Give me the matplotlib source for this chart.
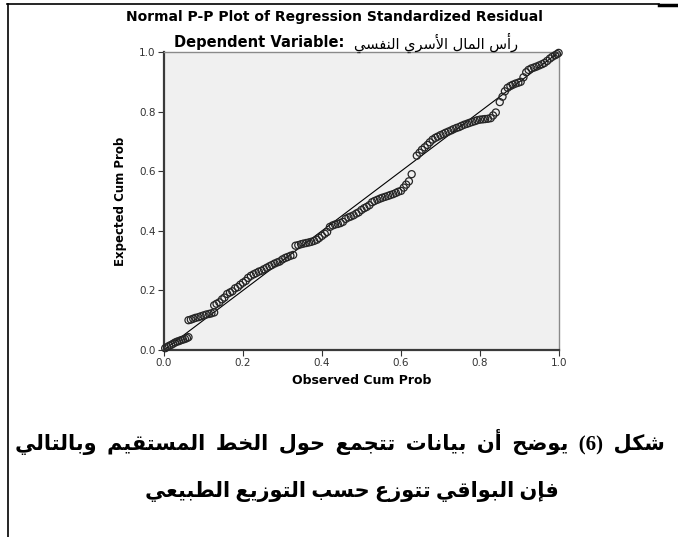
import matplotlib
matplotlib.use("Agg")
import matplotlib.pyplot as plt
from matplotlib.lines import Line2D

plt.rcParams.update({
    "font.family": ["DejaVu Sans"],
    "axes.unicode_minus": False,
})

# ---------- data ----------
observed_cum_prob = [
    0.003, 0.008, 0.013, 0.018, 0.023, 0.028, 0.033, 0.038, 0.043, 0.048, 0.053, 0.058, 0.062,
    0.062, 0.068, 0.074, 0.080, 0.087, 0.093, 0.100, 0.107, 0.114, 0.120, 0.127,
    0.127, 0.133, 0.140, 0.147, 0.153, 0.160, 0.167, 0.173, 0.180, 0.187, 0.193, 0.200,
    0.207, 0.213, 0.220, 0.227, 0.233, 0.240, 0.247, 0.253, 0.260, 0.267, 0.273, 0.280,
    0.287, 0.293, 0.300, 0.307, 0.313, 0.320, 0.327,
    0.333, 0.340, 0.347, 0.353, 0.360, 0.367, 0.373, 0.380, 0.387, 0.393, 0.400, 0.407, 0.413,
    0.420, 0.427, 0.433, 0.440, 0.447, 0.453, 0.460, 0.467, 0.473, 0.480, 0.487, 0.493,
    0.500, 0.507, 0.513, 0.520, 0.527, 0.533, 0.540, 0.547, 0.553, 0.560, 0.567, 0.573,
    0.580, 0.587, 0.593, 0.600, 0.607, 0.613, 0.620, 0.627,
    0.640, 0.647, 0.653, 0.660, 0.667, 0.673, 0.680, 0.687, 0.693, 0.700, 0.707, 0.713,
    0.720, 0.727, 0.733, 0.740, 0.747, 0.753, 0.760, 0.767, 0.773, 0.780, 0.787, 0.793,
    0.800, 0.807, 0.813, 0.820, 0.827, 0.833, 0.840,
    0.850, 0.857, 0.863, 0.870, 0.877, 0.883, 0.890, 0.897, 0.903, 0.910, 0.917, 0.923,
    0.930, 0.937, 0.943, 0.950, 0.957, 0.963, 0.970, 0.977, 0.983, 0.990, 0.995, 0.999,
]
expected_cum_prob = [
    0.006, 0.010, 0.014, 0.017, 0.021, 0.025, 0.028, 0.030, 0.033, 0.035, 0.037, 0.040, 0.043,
    0.100, 0.102, 0.105, 0.108, 0.110, 0.113, 0.116, 0.119, 0.121, 0.123, 0.126,
    0.150, 0.155, 0.160, 0.170, 0.176, 0.188, 0.193, 0.197, 0.207, 0.211, 0.219, 0.226,
    0.232, 0.242, 0.249, 0.254, 0.258, 0.263, 0.266, 0.271, 0.276, 0.281, 0.285, 0.290,
    0.294, 0.297, 0.304, 0.309, 0.312, 0.316, 0.319,
    0.350, 0.352, 0.355, 0.357, 0.359, 0.361, 0.363, 0.366, 0.370, 0.376, 0.383, 0.390, 0.396,
    0.413, 0.418, 0.421, 0.423, 0.426, 0.430, 0.440, 0.445, 0.448, 0.452, 0.458, 0.462,
    0.470, 0.476, 0.480, 0.486, 0.496, 0.500, 0.504, 0.508, 0.511, 0.514, 0.517, 0.520,
    0.523, 0.527, 0.531, 0.534, 0.545, 0.555, 0.566, 0.590,
    0.652, 0.662, 0.672, 0.680, 0.688, 0.697, 0.706, 0.712, 0.716, 0.721, 0.725, 0.729,
    0.733, 0.737, 0.741, 0.745, 0.748, 0.752, 0.756, 0.759, 0.762, 0.765, 0.768, 0.771,
    0.773, 0.774, 0.775, 0.776, 0.778, 0.787, 0.797,
    0.832, 0.850, 0.868, 0.880, 0.886, 0.890, 0.894, 0.897, 0.900, 0.915, 0.932, 0.940,
    0.945, 0.948, 0.951, 0.955, 0.959, 0.963, 0.970, 0.978, 0.984, 0.989, 0.993, 0.997,
]
ref_line = [0.0, 1.0]
axis_ticks = [0.0, 0.2, 0.4, 0.6, 0.8, 1.0]

title = "Normal P-P Plot of Regression Standardized Residual"
dep_label = "Dependent Variable: "
dep_name = "رأس المال الأسري النفسي"
caption_1 = "شكل (6) يوضح أن بيانات تتجمع حول الخط المستقيم وبالتالي"
caption_2 = "فإن البواقي تتوزع حسب التوزيع الطبيعي"


# ---------- minimal Arabic shaping (matplotlib has no bidi / joining) ----------
DUAL = {"ئ": 0xFE89, "ب": 0xFE8F, "ت": 0xFE95, "ث": 0xFE99, "ج": 0xFE9D, "ح": 0xFEA1,
        "خ": 0xFEA5, "س": 0xFEB1, "ش": 0xFEB5, "ص": 0xFEB9, "ض": 0xFEBD, "ط": 0xFEC1,
        "ظ": 0xFEC5, "ع": 0xFEC9, "غ": 0xFECD, "ف": 0xFED1, "ق": 0xFED5, "ك": 0xFED9,
        "ل": 0xFEDD, "م": 0xFEE1, "ن": 0xFEE5, "ه": 0xFEE9, "ي": 0xFEF1}
RIGHT = {"آ": 0xFE81, "أ": 0xFE83, "ؤ": 0xFE85, "إ": 0xFE87, "ا": 0xFE8D, "ة": 0xFE93,
         "د": 0xFEA9, "ذ": 0xFEAB, "ر": 0xFEAD, "ز": 0xFEAF, "و": 0xFEED, "ى": 0xFEEF}
LAM_ALEF = {"آ": 0xFEF5, "أ": 0xFEF7, "إ": 0xFEF9, "ا": 0xFEFB}
MIRROR = {"(": ")", ")": "("}


def shape(text, gap=" "):
    # merge lam + alef into ligature tokens first
    toks = []
    i = 0
    while i < len(text):
        if text[i] == "ل" and i + 1 < len(text) and text[i + 1] in LAM_ALEF:
            toks.append(("LA", text[i + 1]))
            i += 2
        else:
            toks.append(("C", text[i]))
            i += 1

    def joins_next(t):  # can connect to the following letter
        return t[0] == "C" and t[1] in DUAL

    def joins_prev(t):  # can connect to the preceding letter
        return t[0] == "LA" or t[1] in DUAL or t[1] in RIGHT

    out = []
    for k, t in enumerate(toks):
        prev = k > 0 and joins_next(toks[k - 1]) and joins_prev(t)
        nxt = k + 1 < len(toks) and joins_next(t) and joins_prev(toks[k + 1])
        if t[0] == "LA":
            out.append(chr(LAM_ALEF[t[1]] + (1 if prev else 0)))
        elif t[1] in DUAL:
            base = DUAL[t[1]]
            off = 3 if (prev and nxt) else 1 if prev else 2 if nxt else 0
            out.append(chr(base + off))
        elif t[1] in RIGHT:
            out.append(chr(RIGHT[t[1]] + (1 if prev else 0)))
        elif t[1] == " ":
            out.append(gap)  # wider gap mimics the justified first line
        else:
            out.append(t[1])
    # visual order, right to left
    return "".join(MIRROR.get(c, c) for c in reversed(out))


W, H = 678, 537
fig = plt.figure(figsize=(W / 100, H / 100), dpi=100)
fig.patch.set_facecolor("white")

ax = fig.add_axes([164 / W, (H - 350) / H, 395 / W, 298 / H])
ax.set_facecolor("#F0F0F0")

ax.plot(ref_line, ref_line, color="black", lw=0.8, zorder=2)
ax.scatter(observed_cum_prob, expected_cum_prob, s=26, facecolors="none",
           edgecolors="#262626", linewidths=0.9, zorder=3, clip_on=False)

ax.set_xlim(0, 1)
ax.set_ylim(0, 1)
ax.set_xticks(axis_ticks)
ax.set_yticks(axis_ticks)
ax.set_xticklabels([f"{t:.1f}" for t in axis_ticks])
ax.set_yticklabels([f"{t:.1f}" for t in axis_ticks])
ax.tick_params(direction="out", length=4, width=0.8, color="#333333",
               labelsize=7.5, labelcolor="#333333", pad=2)

for side in ["left", "bottom"]:
    ax.spines[side].set_color("#3a3a3a")
    ax.spines[side].set_linewidth(1.6)
for side in ["top", "right"]:
    ax.spines[side].set_color("#8a8a8a")
    ax.spines[side].set_linewidth(1.0)

ax.set_xlabel("Observed Cum Prob", fontsize=9, fontweight="bold", labelpad=4)
ax.set_ylabel("Expected Cum Prob", fontsize=8.5, fontweight="bold", labelpad=9)

fig.text(334 / W, 1 - 17 / H, title, ha="center", va="center",
         fontsize=10, fontweight="bold")
fig.text(349 / W, 1 - 43 / H, dep_label, ha="right", va="center",
         fontsize=10.5, fontweight="bold")
fig.text(354 / W, 1 - 43 / H, shape(dep_name), ha="left", va="center",
         fontsize=10.5)

fig.text(340 / W, 1 - 442 / H, shape(caption_1, gap="  "), ha="center", va="center",
         fontsize=15, fontweight="bold", family=["Liberation Serif", "DejaVu Sans"])
fig.text(352 / W, 1 - 492 / H, shape(caption_2), ha="center", va="center",
         fontsize=15, fontweight="bold", family=["Liberation Serif", "DejaVu Sans"])

# frame lines of the original document
fig.add_artist(Line2D([7 / W, 659 / W], [1 - 4 / H, 1 - 4 / H], color="black", lw=1.2))
fig.add_artist(Line2D([659 / W, 1.0], [1 - 5 / H, 1 - 5 / H], color="black", lw=2.5))
fig.add_artist(Line2D([8 / W, 8 / W], [0.0, 1 - 4 / H], color="black", lw=1.2))

fig.savefig("out.png", dpi=100)
